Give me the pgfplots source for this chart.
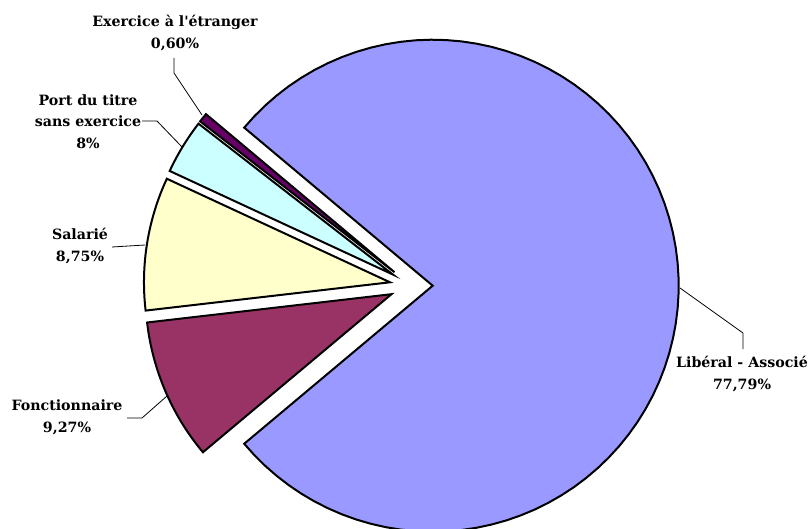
\documentclass[border=0pt]{standalone}
\usepackage{fontspec}
\setmainfont{DejaVu Serif}[Ligatures=TeXOff]
\usepackage{pgfplots}
\pgfplotsset{compat=1.18}
\definecolor{cLib}{HTML}{9999FF}
\definecolor{cFon}{HTML}{993366}
\definecolor{cSal}{HTML}{FFFFCC}
\definecolor{cPor}{HTML}{CCFFFF}
\definecolor{cExe}{HTML}{660066}
% shares (percent), in drawing order counter-clockwise
\def\pLib{77.79}
\def\pExe{0.60}
\def\pPor{3.59}
\def\pSal{8.75}
\def\pFon{9.27}
\pgfmathsetmacro{\aA}{-0.5*\pLib*3.6}
\pgfmathsetmacro{\aB}{\aA+\pLib*3.6}
\pgfmathsetmacro{\aC}{\aB+\pExe*3.6}
\pgfmathsetmacro{\aD}{\aC+\pPor*3.6}
\pgfmathsetmacro{\aE}{\aD+\pSal*3.6}
\pgfmathsetmacro{\aF}{\aE+\pFon*3.6}
\def\cx{411.2}
\def\cy{-285.7}
\def\dd{21.5}
\def\rr{246}
\newcommand\slice[3]{%
  \addplot[fill=#1, draw=black, line width=2pt, line join=miter, domain=#2:#3, samples=80]
    ({\cx+\dd*cos((#2+#3)/2)+\rr*cos(x)}, {\cy+\dd*sin((#2+#3)/2)+\rr*sin(x)})
    -- ({\cx+\dd*cos((#2+#3)/2)},{\cy+\dd*sin((#2+#3)/2)}) -- cycle;
}
\begin{document}
\begin{tikzpicture}
\begin{axis}[x=1pt, y=1pt, xmin=0, xmax=810, ymin=-528, ymax=0,
  hide axis, clip=true]
\path (axis cs:0,-528) rectangle (axis cs:810,0);
\slice{cLib}{\aA}{\aB}
\slice{cExe}{\aB}{\aC}
\slice{cPor}{\aC}{\aD}
\slice{cSal}{\aD}{\aE}
\slice{cFon}{\aE}{\aF}
% leader lines
\addplot[black, line width=0.8pt] coordinates {(174,-58) (174,-73) (202,-115)};
\addplot[black, line width=0.8pt] coordinates {(142,-121) (157,-121) (182,-147)};
\addplot[black, line width=0.8pt] coordinates {(112,-247) (145,-245)};
\addplot[black, line width=0.8pt] coordinates {(127,-418) (142,-418) (167,-396)};
\addplot[black, line width=0.8pt] coordinates {(680,-288) (743,-333) (743,-349)};
% labels
\begin{scope}[every node/.style={align=center, font=\fontsize{14.2}{21.5}\selectfont\bfseries, inner sep=0pt}]
\node at (axis cs:175,-33) {Exercice à l'étranger\\0,60\%};
\node at (axis cs:88,-121.5) {Port du titre\\sans exercice\\8\%};
\node at (axis cs:80,-246) {Salarié\\8,75\%};
\node at (axis cs:67,-417.5) {Fonctionnaire\\9,27\%};
\node at (axis cs:742,-374) {Libéral - Associé\\77,79\%};
\end{scope}
\end{axis}
\end{tikzpicture}
\end{document}
